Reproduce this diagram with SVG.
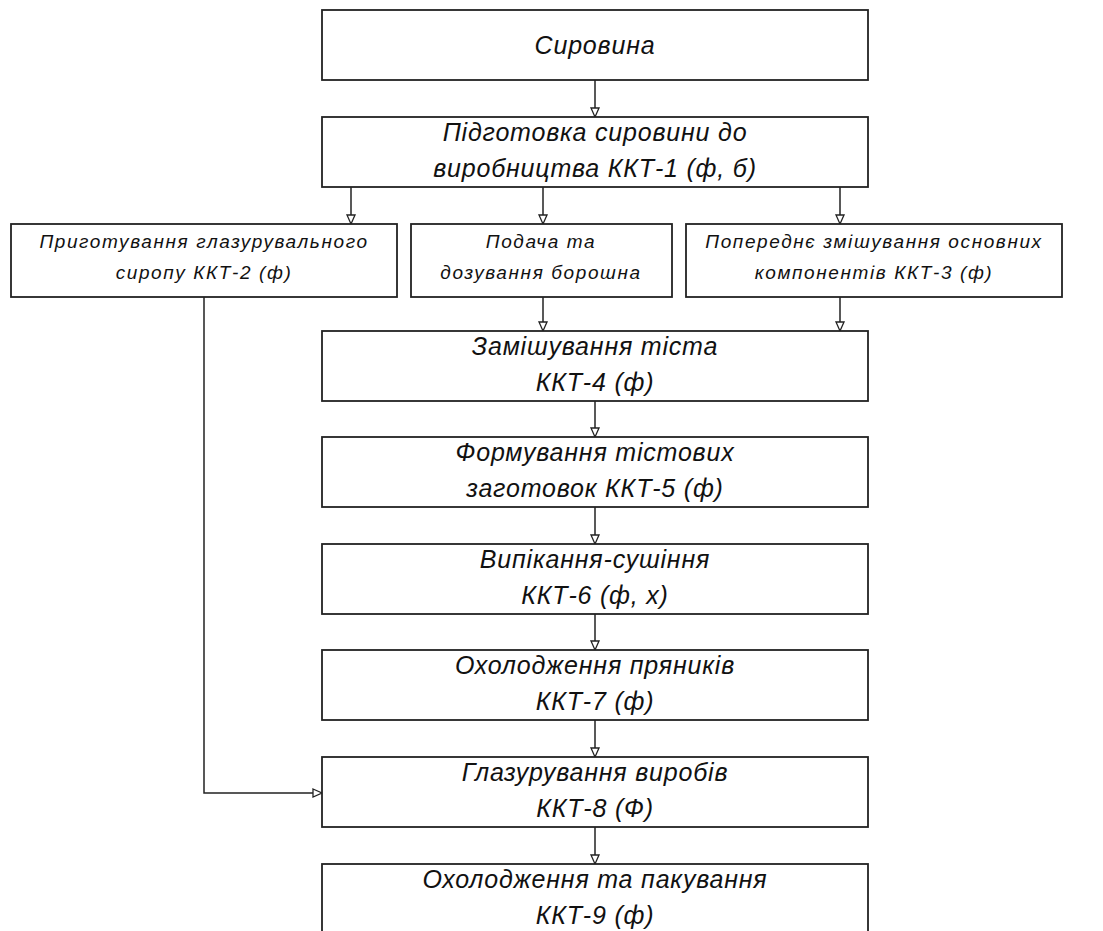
<svg xmlns="http://www.w3.org/2000/svg" width="1103" height="931" viewBox="0 0 1103 931">
<defs>
<style>
.box{fill:#fff;stroke:#222;stroke-width:1.8}
.t{font-family:"Liberation Sans",Arial,sans-serif;font-style:italic;font-size:25px;fill:#111;text-anchor:middle;letter-spacing:0.8px}
.s{font-family:"Liberation Sans",Arial,sans-serif;font-style:italic;font-size:19px;fill:#111;text-anchor:middle;letter-spacing:1.6px}
.c{fill:none;stroke:#222;stroke-width:1.5}
</style>
<marker id="ah" markerWidth="12" markerHeight="12" refX="10" refY="5" orient="auto" markerUnits="userSpaceOnUse" viewBox="0 0 12 10">
<path d="M1,1 L10,5 L1,9 Z" fill="#fff" stroke="#222" stroke-width="1.3"/>
</marker>
</defs>
<rect width="1103" height="931" fill="#fff"/>
<g id="connectors">
<path class="c" d="M595,80 V117" marker-end="url(#ah)"/>
<path class="c" d="M351,187 V224" marker-end="url(#ah)"/>
<path class="c" d="M543,187 V224" marker-end="url(#ah)"/>
<path class="c" d="M840,187 V224" marker-end="url(#ah)"/>
<path class="c" d="M543,297 V331" marker-end="url(#ah)"/>
<path class="c" d="M840,297 V331" marker-end="url(#ah)"/>
<path class="c" d="M595,401 V437" marker-end="url(#ah)"/>
<path class="c" d="M595,507 V544" marker-end="url(#ah)"/>
<path class="c" d="M595,614 V650" marker-end="url(#ah)"/>
<path class="c" d="M595,720 V757" marker-end="url(#ah)"/>
<path class="c" d="M595,827 V864" marker-end="url(#ah)"/>
<path class="c" d="M204,297 V793 H322" marker-end="url(#ah)"/>
</g>
<g id="n1"><rect class="box" x="322" y="10" width="546" height="70"/><text class="t" x="595" y="54">Сировина</text></g>
<g id="n2"><rect class="box" x="322" y="117" width="546" height="70"/><text class="t" x="595" y="141">Підготовка сировини до</text><text class="t" x="595" y="177">виробництва ККТ-1 (ф, б)</text></g>
<g id="n3"><rect class="box" x="11" y="224" width="386" height="73"/><text class="s" x="204" y="248">Приготування глазурувального</text><text class="s" x="204" y="279">сиропу ККТ-2 (ф)</text></g>
<g id="n4"><rect class="box" x="411" y="224" width="261" height="73"/><text class="s" x="541" y="248">Подача та</text><text class="s" x="541" y="279">дозування борошна</text></g>
<g id="n5"><rect class="box" x="686" y="224" width="376" height="73"/><text class="s" x="874" y="248">Попереднє змішування основних</text><text class="s" x="874" y="279">компонентів ККТ-3 (ф)</text></g>
<g id="n6"><rect class="box" x="322" y="331" width="546" height="70"/><text class="t" x="595" y="355">Замішування тіста</text><text class="t" x="595" y="391">ККТ-4 (ф)</text></g>
<g id="n7"><rect class="box" x="322" y="437" width="546" height="70"/><text class="t" x="595" y="461">Формування тістових</text><text class="t" x="595" y="497">заготовок ККТ-5 (ф)</text></g>
<g id="n8"><rect class="box" x="322" y="544" width="546" height="70"/><text class="t" x="595" y="568">Випікання-сушіння</text><text class="t" x="595" y="604">ККТ-6 (ф, х)</text></g>
<g id="n9"><rect class="box" x="322" y="650" width="546" height="70"/><text class="t" x="595" y="674">Охолодження пряників</text><text class="t" x="595" y="710">ККТ-7 (ф)</text></g>
<g id="n10"><rect class="box" x="322" y="757" width="546" height="70"/><text class="t" x="595" y="781">Глазурування виробів</text><text class="t" x="595" y="817">ККТ-8 (Ф)</text></g>
<g id="n11"><rect class="box" x="322" y="864" width="546" height="70"/><text class="t" x="595" y="888">Охолодження та пакування</text><text class="t" x="595" y="924">ККТ-9 (ф)</text></g>
</svg>
